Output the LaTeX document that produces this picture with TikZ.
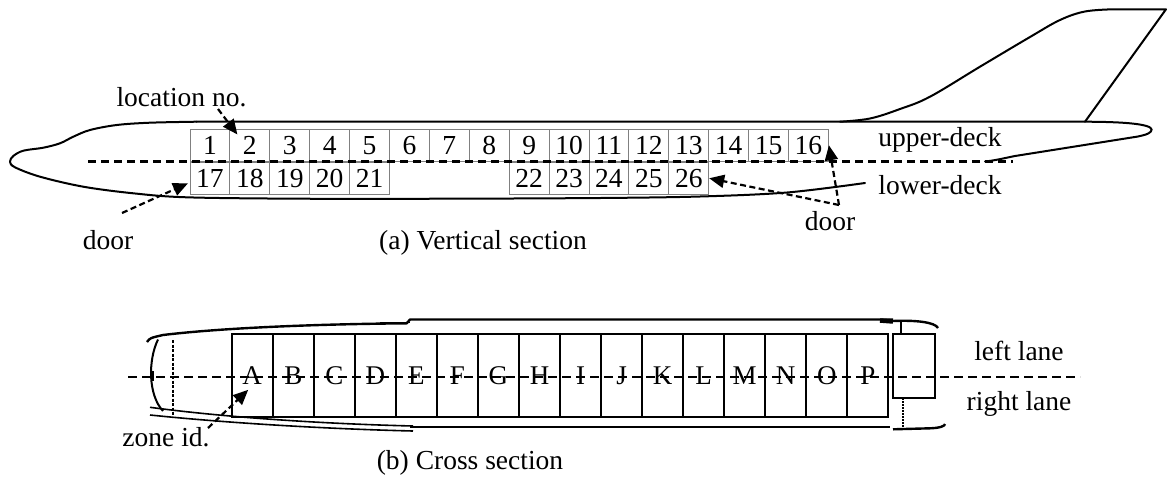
\documentclass[tikz,border=0pt]{standalone}
\usepackage{fontspec}
\setmainfont{Liberation Serif}
\usetikzlibrary{arrows.meta,calc}
\begin{document}
\begin{tikzpicture}[x=1pt,y=-1pt,
  outline/.style={line width=2pt, line join=round, line cap=round},
  deck/.style={line width=2.4pt, dash pattern=on 8pt off 5pt},
  locbox/.style={draw=black!50, line width=1pt, minimum width=39.9pt, minimum height=32.5pt,
                 inner sep=0pt, font=\fontsize{27.5}{27.5}\selectfont},
  zonebox/.style={draw, line width=2pt, minimum width=41.04pt, minimum height=83pt,
                  inner sep=0pt, font=\fontsize{27}{27}\selectfont},
  lbl/.style={font=\fontsize{27.5}{30}\selectfont, anchor=base, inner sep=0pt},
  darr/.style={line width=2.2pt, dash pattern=on 6pt off 3.5pt,
               -{Triangle[length=15pt,width=13pt]}},
]
\useasboundingbox (0,0) rectangle (1168,480);

% ---------- vertical section: fuselage ----------
\draw[outline] plot[smooth, tension=0.55] coordinates {
  (196.7,121.7) (150,122.7) (116.7,125) (90,130) (73.3,136.7) (60,143.3)
  (43.3,147.7) (23.3,150.7) (13.3,156) (10,161.7) (15,167.3) (40,176.7)
  (83.3,186.7) (133.3,193.3) (186.7,197.3) (300,198.7) (450,198.7)
  (600,198) (700,196.5) (787,192.5) (865,183)};
\draw[outline] (196.7,121.7) -- (1082,121.7)
  .. controls (1140,121.7) and (1156,126) .. (1150.7,131.7)
  .. controls (1148,134.5) and (1144,135) .. (1138,136.5)
  -- (1015,156) .. controls (1005,158) and (995,160.5) .. (985,161.5);
% tail fin
\draw[outline] plot[smooth, tension=0.6] coordinates {
  (840,121.7) (870,118.5) (900,109) (930,96.7) (980,66.7) (1030,37)
  (1060,20) (1085,11.5) (1113,9.3)} -- (1166,9.3) -- (1085,121.7);

% location boxes, upper deck
\foreach \i in {1,...,16}
  \node[locbox] (u\i) at ({190+39.9*(\i-0.5)},145.25) {\i};
% location boxes, lower deck
\foreach \n [count=\c] in {17,...,21}
  \node[locbox] (l\n) at ({190+39.9*(\c-0.5)},178.25) {\n};
\foreach \n [count=\c from 9] in {22,...,26}
  \node[locbox] (l\n) at ({190+39.9*(\c-0.5)},178.25) {\n};

% deck separator
\coordinate (deckL) at (88,161.5);
\coordinate (deckR) at (1013,161.5);
\draw[deck] (deckL) -- (deckR);

% labels
\node[lbl] (locno) at (181.5,106) {location no.};
\node[lbl] (upper) at (940,146.7) {upper-deck};
\node[lbl] (lower) at (940,194) {lower-deck};
\node[lbl] (doorA) at (108,249) {door};
\node[lbl] (doorB) at (830,230) {door};
\node[lbl] (capA) at (483,249) {(a) Vertical section};

% pointers
\coordinate (locT) at (218,109);
\draw[darr] (locT) -- ($(u2.north west)+(8,6)$);
\coordinate (doorAT) at (122,213);
\draw[darr] (doorAT) -- ($(l17.west)+(-1.5,5)$);
\coordinate (doorBT) at (839,205);
\draw[darr] (doorBT) -- (l26.east);
\draw[darr] (doorBT) -- (u16.east);

% ---------- cross section ----------
% outer hull, top
\draw[line width=2.4pt, line join=round] (147,342) .. controls (150,338) .. (163,335)
  .. controls (230,327) and (330,324) .. (406.7,323.3) -- (410,319.5) -- (893,319.5);
\draw[line width=1pt] (380,322.5) -- (410,322.5);
\draw[line width=4.5pt] (880,320.5) -- (893,321.5);
\draw[line width=2.4pt] (893,321) .. controls (915,320) and (935,322) .. (938,328);
% outer hull, bottom
\draw[line width=1.6pt] (150,407.3) .. controls (230,418) and (330,424) .. (413,426);
\draw[line width=1.6pt] (150,415) .. controls (230,423.3) and (330,429) .. (413,431);
\draw[line width=2.8pt] (410,427) -- (890,427);
\draw[line width=2.4pt] (893,429.3) -- (930,428.3) .. controls (940,428) and (945,426) .. (945,424);
% nose bulkhead
\draw[line width=2pt] (158,339.5) .. controls (148,360) and (148,395) .. (163,411);
\draw[line width=2pt] (153,371) -- (153,381);
\draw[line width=2pt, dash pattern=on 3pt off 1.5pt] (173.3,340) -- (173.3,415);

% zones
\foreach \z [count=\c] in {A,B,C,D,E,F,G,H,I,J,K,L,M,N,O,P}
  \node[zonebox] (z\z) at ({231.7+41.04*(\c-0.5)},375.8) {\z};
% tail box
\node[draw, line width=2pt, minimum width=41.7pt, minimum height=64pt, inner sep=0pt]
  (tailbox) at (914.2,366.3) {};
\draw[line width=2pt] (901,320.5) -- (901,334.3);
\draw[line width=2pt, dash pattern=on 2pt off 1pt] (903,398.3) -- (903,428);

% lane separator
\coordinate (laneL) at (128,376.7);
\coordinate (laneR) at (1080,376.7);
\draw[line width=2.4pt, dash pattern=on 9pt off 5pt] (laneL) -- (laneR);

\node[lbl] (leftl) at (1019,360) {left lane};
\node[lbl] (rightl) at (1019,410) {right lane};
\node[lbl] (zone) at (166,446.7) {zone id.};
\node[lbl] (capB) at (470,469) {(b) Cross section};

\coordinate (zoneT) at (208,428);
\draw[darr] (zoneT) -- ($(zA.center)+(-4,14)$);
\end{tikzpicture}
\end{document}
